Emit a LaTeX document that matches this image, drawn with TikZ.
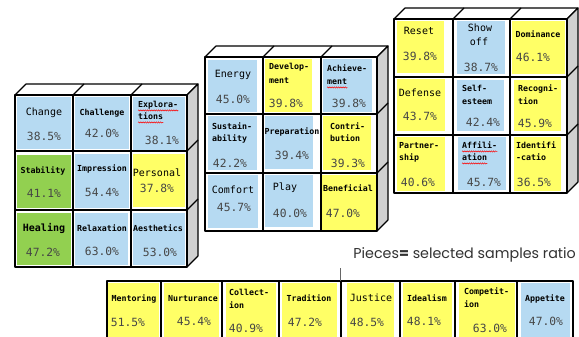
\documentclass[tikz,border=0pt]{standalone}
\usepackage{fontspec}
\usetikzlibrary{decorations.pathmorphing}
\newfontfamily\gfont{DejaVu Sans Mono}
\newfontfamily\pfont{Poppins}
\definecolor{lblue}{RGB}{182,218,242}
\definecolor{lyel}{RGB}{255,255,102}
\definecolor{lgreen}{RGB}{146,208,80}
\definecolor{sidegrey}{RGB}{208,208,208}
\definecolor{pcgray}{RGB}{70,70,70}
\tikzset{
  edge/.style={draw=black, line width=1.1pt, line join=round},
  divider/.style={draw=black, line width=1.6pt},
  fb/.style={fill=lblue},
  fy/.style={fill=lyel},
  fg/.style={fill=lgreen},
  nm/.style={font=\gfont\bfseries\fontsize{8.3}{9}\selectfont, inner sep=0pt, text height=6pt, text depth=1.5pt},
  nmL/.style={font=\gfont\fontsize{10}{11}\selectfont, inner sep=0pt, text height=7pt, text depth=2pt},
  pc/.style={font=\gfont\fontsize{11.3}{12}\selectfont, text=pcgray, inner sep=0pt, text height=8pt, text depth=0pt},
  spell/.style={draw=red, line width=0.5pt, decorate, decoration={snake, segment length=2.2pt, amplitude=0.6pt}},
}
% cube frame: x0 x1 x2 x3 y0 y1 y2 y3
\newcommand{\mycube}[8]{%
  \filldraw[edge, fill=white] (#1,#5) -- (#1+11,#5-11) -- (#4+11,#5-11) -- (#4,#5) -- cycle;
  \draw[edge] (#2,#5) -- (#2+11,#5-11);
  \draw[edge] (#3,#5) -- (#3+11,#5-11);
  \filldraw[edge, fill=sidegrey] (#4,#5) -- (#4+11,#5-11) -- (#4+11,#8-11) -- (#4,#8) -- cycle;
  \draw[edge] (#4,#6) -- (#4+11,#6-11);
  \draw[edge] (#4,#7) -- (#4+11,#7-11);
  \fill[white] (#1,#5) rectangle (#4,#8);
  \draw[divider] (#2,#5) -- (#2,#8);
  \draw[divider] (#3,#5) -- (#3,#8);
  \draw[divider] (#1,#6) -- (#4,#6);
  \draw[divider] (#1,#7) -- (#4,#7);
  \draw[edge] (#1,#5) rectangle (#4,#8);
}
\begin{document}
\begin{tikzpicture}[x=1pt, y=-1pt]
\clip (0,0) rectangle (579,337);
\fill[white] (0,0) rectangle (579,337);

% ===== cube 1 =====
\mycube{15}{73}{131}{187}{95}{151}{210}{267}
\fill[fb] (17,97) rectangle (71,149);
\fill[fb] (75,97) rectangle (129,149);
\fill[fb] (133,97) rectangle (185,150);
\fill[fg] (17,155) rectangle (71,208);
\fill[fb] (75,154) rectangle (129,208);
\fill[fy] (133,154) rectangle (185,207);
\fill[fg] (17,213) rectangle (71,265);
\fill[fb] (75,213) rectangle (128,265);
\fill[fb] (133,213) rectangle (185,265);

\node[nmL] (change) at (44,113) {Change};
\node[pc] (changep) at (44,136) {38.5\%};
\node[nm] (challenge) at (102,113) {Challenge};
\node[pc] (challengep) at (102,133) {42.0\%};
\node[nm, anchor=west] (explor1) at (138,105) {Explora-};
\node[nm, anchor=west] (explor2) at (138,117) {tions};
\draw[spell] ([yshift=-1.5pt]explor1.south west) -- ([yshift=-1.5pt]explor1.south east);
\draw[spell] ([yshift=-1.5pt]explor2.south west) -- ([yshift=-1.5pt]explor2.south east);
\node[pc] (explorp) at (162,140) {38.1\%};
\node[nm] (stability) at (43,171) {Stability};
\node[pc] (stabilityp) at (44,193) {41.1\%};
\node[nm] (impression) at (102,169) {Impression};
\node[pc] (impressionp) at (102,192) {54.4\%};
\node[nmL] (personal) at (157,174) {Personal};
\node[pc] (personalp) at (157,188) {37.8\%};
\node[nmL, font=\gfont\bfseries\fontsize{10}{11}\selectfont] (healing) at (44,229) {Healing};
\node[pc] (healingp) at (43,252) {47.2\%};
\node[nm] (relax) at (102,229) {Relaxation};
\node[pc] (relaxp) at (102,251) {63.0\%};
\node[nm] (aesth) at (158,229) {Aesthetics};
\node[pc] (aesthp) at (160,252) {53.0\%};

% ===== cube 2 =====
\mycube{205}{263}{321}{377}{57}{114}{173}{231}
\fill[fb] (208,60) rectangle (257,112);
\fill[fy] (265,59) rectangle (312,112);
\fill[fb] (323,59) rectangle (372,112);
\fill[fb] (208,116) rectangle (257,170);
\fill[fb] (265,116) rectangle (313,169);
\fill[fy] (323,116) rectangle (371,170);
\fill[fb] (208,175) rectangle (258,228);
\fill[fb] (265,175) rectangle (313,227);
\fill[fy] (322,175) rectangle (376,230);

\node[nmL] (energy) at (233,75) {Energy};
\node[pc] (energyp) at (233,99) {45.0\%};
\node[nm, anchor=west] (devel1) at (269,67) {Develop-};
\node[nm, anchor=west] (devel2) at (269,81) {ment};
\node[pc] (develp) at (286,103) {39.8\%};
\node[nm, anchor=west] (achie1) at (327,69) {Achieve-};
\node[nm, anchor=west] (achie2) at (327,82) {ment};
\draw[spell] ([yshift=-1.5pt]achie2.south west) -- ([yshift=-1.5pt]achie2.south east);
\node[pc] (achiep) at (349,104) {39.8\%};
\node[nm, anchor=west] (sust1) at (212,127) {Sustain-};
\node[nm, anchor=west] (sust2) at (212,139) {ability};
\node[pc] (sustp) at (230,163) {42.2\%};
\node[nm] (prep) at (292,132) {Preparation};
\node[pc] (prepp) at (292,155) {39.4\%};
\node[nm, anchor=west] (contr1) at (330,127) {Contri-};
\node[nm, anchor=west] (contr2) at (330,139) {bution};
\node[pc] (contrp) at (348,163) {39.3\%};
\node[nmL] (comfort) at (233,191) {Comfort};
\node[pc] (comfortp) at (234,207) {45.7\%};
\node[nmL] (play) at (285,188) {Play};
\node[pc] (playp) at (290,213) {40.0\%};
\node[nm] (benef) at (348,189) {Beneficial};
\node[pc] (benefp) at (343,213) {47.0\%};

% ===== cube 3 =====
\mycube{394}{453}{510}{567}{19}{77}{135}{193}
\fill[fy] (397,21) rectangle (444,73);
\fill[fb] (457,21) rectangle (505,74);
\fill[fy] (512,21) rectangle (565,74);
\fill[fy] (397,79) rectangle (445,131);
\fill[fb] (457,80) rectangle (504,131);
\fill[fy] (514,80) rectangle (561,131);
\fill[fy] (397,137) rectangle (445,191);
\fill[fb] (458,137) rectangle (506,190);
\fill[fy] (514,137) rectangle (561,191);

\node[nmL] (reset) at (419,32) {Reset};
\node[pc] (resetp) at (420,57) {39.8\%};
\node[nmL] (show1) at (480,29) {Show};
\node[nmL] (show2) at (479,43) {off};
\node[pc] (showp) at (481,68) {38.7\%};
\node[nm] (domin) at (538,35) {Dominance};
\node[pc] (dominp) at (533,58) {46.1\%};
\node[nmL] (defense) at (420,94) {Defense};
\node[pc] (defensep) at (420,117) {43.7\%};
\node[nm, anchor=west] (self1) at (462,89) {Self-};
\node[nm, anchor=west] (self2) at (462,102) {esteem};
\node[pc] (selfp) at (483,123) {42.4\%};
\node[nm, anchor=west] (recog1) at (518,89) {Recogni-};
\node[nm, anchor=west] (recog2) at (518,102) {tion};
\node[pc] (recogp) at (535,124) {45.9\%};
\node[nm, anchor=west] (partn1) at (399,146) {Partner-};
\node[nm, anchor=west] (partn2) at (399,158) {ship};
\node[pc] (partnp) at (418,182) {40.6\%};
\node[nm, anchor=west] (affil1) at (462,146) {Affili-};
\node[nm, anchor=west] (affil2) at (462,158) {ation};
\draw[spell] ([yshift=-1.5pt]affil1.south west) -- ([yshift=-1.5pt]affil1.south east);
\draw[spell] ([yshift=-1.5pt]affil2.south west) -- ([yshift=-1.5pt]affil2.south east);
\node[pc] (affilp) at (484,182) {45.7\%};
\node[nm, anchor=west] (ident1) at (516,146) {Identifi};
\node[nm, anchor=west] (ident2) at (516,158) {-catio};
\node[pc] (identp) at (534,182) {36.5\%};

% ===== caption =====
\node[font=\pfont\fontsize{14.3}{15}\selectfont, text={rgb,255:red,50;green,50;blue,50}, anchor=east, inner sep=0pt] (caption) at (576,255) {Pieces\textbf{=} selected samples ratio};

% ===== bottom strip =====
\fill[white] (107,281) rectangle (573,345);
\fill[fy] (108,283) rectangle (159,345);
\fill[fy] (164,283) rectangle (219,345);
\fill[fy] (226,283) rectangle (276,345);
\fill[fy] (282,283) rectangle (337,345);
\fill[fy] (347,283) rectangle (394,345);
\fill[fy] (403,283) rectangle (452,345);
\fill[fy] (459,283) rectangle (515,345);
\fill[fb] (521,283) rectangle (570,345);
\foreach \xx in {161,222,279,341,400,455,517} \draw[divider] (\xx,281) -- (\xx,345);
\draw[edge] (107,345) -- (107,281) -- (573,281) -- (573,345);
\draw[line width=0.6pt, black!60] (340,268) -- (340,281);

\node[nm] (mentor) at (134,299) {Mentoring};
\node[pc] (mentorp) at (128,322) {51.5\%};
\node[nm] (nurt) at (193,299) {Nurturance};
\node[pc] (nurtp) at (194,321) {45.4\%};
\node[nm, anchor=west] (coll1) at (229,293) {Collect-};
\node[nm, anchor=west] (coll2) at (229,306) {ion};
\node[pc] (collp) at (246,328) {40.9\%};
\node[nm] (trad) at (309,299) {Tradition};
\node[pc] (tradp) at (305,322) {47.2\%};
\node[nmL] (just) at (371,299) {Justice};
\node[pc] (justp) at (367,322) {48.5\%};
\node[nm] (ideal) at (427,299) {Idealism};
\node[pc] (idealp) at (424,321) {48.1\%};
\node[nm, anchor=west] (comp1) at (464,292) {Competit-};
\node[nm, anchor=west] (comp2) at (464,305) {ion};
\node[pc] (compp) at (490,328) {63.0\%};
\node[nm] (appet) at (545,299) {Appetite};
\node[pc] (appetp) at (546,321) {47.0\%};
\end{tikzpicture}
\end{document}
